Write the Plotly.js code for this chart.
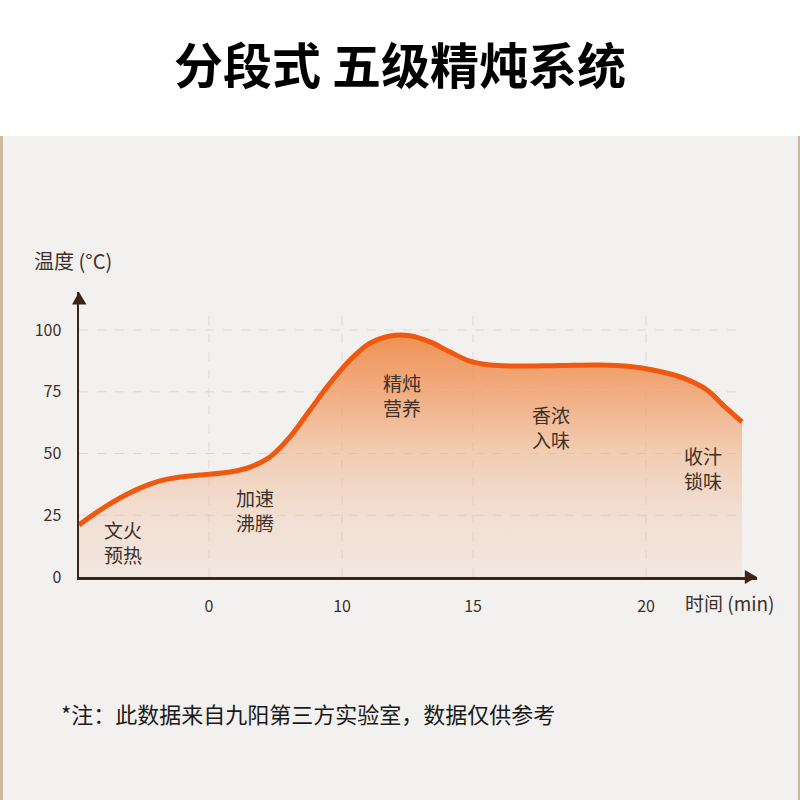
<!DOCTYPE html>
<html>
<head>
<meta charset="utf-8">
<script src="https://cdn.plot.ly/plotly-3.0.1.min.js"></script>
<style>
  html, body { margin: 0; padding: 0; background: #ffffff; }
  #chart { width: 800px; height: 800px; }
</style>
</head>
<body>
<div id="chart"></div>
<script>
// ---- data (x in horizontal chart units, axis is non-linear in minutes) ----
const curveX = [0, 21, 41, 61, 81, 101, 121, 151, 171, 191, 211, 231, 251, 271, 291, 311, 331, 351, 371, 391, 411, 441, 481, 521, 551, 574, 604, 628, 644, 663];
const temperature = [21.1, 27.1, 32, 36, 38.9, 40.5, 41.3, 42.5, 44.5, 48.6, 56.7, 67.6, 78.5, 87.9, 94.7, 97.6, 97.7, 95.2, 91.1, 87.4, 85.8, 85.4, 85.6, 85.8, 85.2, 83.8, 80.6, 75.7, 69.6, 62.8];
const xTickVals = [130, 263, 394, 567];
const xTickText = ["0", "10", "15", "20"];
const yTickVals = [0, 25, 50, 75, 100];
const stageLabels = ["文火<br>预热", "加速<br>沸腾", "精炖<br>营养", "香浓<br>入味", "收汁<br>锁味"];
const stageX = [44, 176, 323, 472, 624];
const stageY = [14.2, 27.1, 73.7, 60.7, 44.1];
const titleText = "分段式 五级精炖系统";
const yTitle = "温度 (°C)";
const xTitle = "时间 (min)";
const footnote = "*注：此数据来自九阳第三方实验室，数据仅供参考";

const CJK = '"Noto Sans CJK SC", "Noto Sans", sans-serif';
const textColor = '#3d3029';

const trace = {
  x: curveX,
  y: temperature,
  type: 'scatter',
  mode: 'lines',
  line: { color: '#f05810', width: 5, shape: 'spline', smoothing: 1 },
  fill: 'tozeroy',
  fillgradient: {
    type: 'vertical',
    start: 0,
    stop: 100,
    colorscale: [
      [0, 'rgba(240,190,160,0.2)'],
      [0.25, 'rgba(240,180,145,0.3)'],
      [0.5, 'rgba(242,168,118,0.5)'],
      [0.75, 'rgba(240,148,88,0.74)'],
      [1, 'rgba(238,132,62,0.9)']
    ]
  },
  hoverinfo: 'skip',
  showlegend: false
};

const annotations = stageLabels.map((t, i) => ({
  text: t, x: stageX[i], y: stageY[i], xref: 'x', yref: 'y',
  showarrow: false, xanchor: 'center', yanchor: 'middle', align: 'center',
  font: { family: CJK, size: 19, color: textColor }
}));
annotations.push({
  text: yTitle, xref: 'paper', yref: 'paper', x: -0.0693, y: 1.112,
  xanchor: 'left', yanchor: 'middle', showarrow: false,
  font: { family: CJK, size: 20, color: textColor }
});
annotations.push({
  text: xTitle, xref: 'paper', yref: 'paper', x: 0.8909, y: -0.0912,
  xanchor: 'left', yanchor: 'middle', showarrow: false,
  font: { family: CJK, size: 19, color: textColor }
});
annotations.push({
  text: footnote, xref: 'paper', yref: 'paper', x: -0.0295, y: -0.477,
  xanchor: 'left', yanchor: 'middle', showarrow: false,
  font: { family: CJK, size: 22, color: '#1a1a1a' }
});

const axisColor = '#3b2517';
const gridColor = '#ded7d1';
const shapes = [
  // panel background
  { type: 'rect', xref: 'paper', yref: 'paper', x0: -0.1166, x1: 1.0634, y0: -0.7825, y1: 1.5474,
    fillcolor: '#f2f1ef', line: { width: 0 }, layer: 'below' },
  // side borders
  { type: 'rect', xref: 'paper', yref: 'paper', x0: -0.1166, x1: -0.1122, y0: -0.7825, y1: 1.5474,
    fillcolor: '#cdb99c', line: { width: 0 }, layer: 'below' },
  { type: 'rect', xref: 'paper', yref: 'paper', x0: 1.0604, x1: 1.0634, y0: -0.7825, y1: 1.5474,
    fillcolor: '#cdb99c', line: { width: 0 }, layer: 'below' },
  // y-axis arrow head
  { type: 'path', xref: 'paper', yref: 'paper',
    path: 'M 0 1.0 L -0.0103 0.956 L 0.0111 0.956 Z',
    fillcolor: axisColor, line: { width: 0 } },
  // x-axis arrow head
  { type: 'path', xref: 'paper', yref: 'paper',
    path: 'M 1.0 0 L 0.982 0.0246 L 0.982 -0.0246 Z',
    fillcolor: axisColor, line: { width: 0 } }
];
// dashed guide lines at tick positions
yTickVals.filter(v => v > 0).forEach(v => shapes.push({
  type: 'line', xref: 'x', yref: 'y', x0: 0, x1: 658, y0: v, y1: v,
  line: { color: gridColor, width: 1, dash: 'dash' }, layer: 'below'
}));
xTickVals.forEach(v => shapes.push({
  type: 'line', xref: 'x', yref: 'y', x0: v, x1: v, y0: 0, y1: 109,
  line: { color: gridColor, width: 1, dash: 'dash' }, layer: 'below'
}));

const layout = {
  width: 800, height: 800,
  margin: { l: 79, r: 43, t: 292, b: 223, pad: 0 },
  paper_bgcolor: '#ffffff',
  plot_bgcolor: 'rgba(0,0,0,0)',
  title: {
    text: '<b>' + titleText + '</b>',
    x: 0.5, xref: 'container', xanchor: 'center',
    y: 0.916, yref: 'container', yanchor: 'middle',
    font: { family: CJK, size: 49, color: '#000000' }
  },
  xaxis: {
    range: [0, 678], fixedrange: true,
    tickmode: 'array', tickvals: xTickVals, ticktext: xTickText,
    ticks: '', ticklabelstandoff: 13,
    tickfont: { family: CJK, size: 16, color: textColor },
    showgrid: false,
    showline: true, linecolor: axisColor, linewidth: 2.5,
    zeroline: false
  },
  yaxis: {
    range: [0, 115.4], fixedrange: true,
    tickmode: 'array', tickvals: yTickVals,
    ticks: '', ticklabelstandoff: 12,
    tickfont: { family: CJK, size: 16, color: textColor },
    showgrid: false,
    showline: true, linecolor: axisColor, linewidth: 2.5,
    zeroline: false
  },
  annotations: annotations,
  shapes: shapes,
  showlegend: false
};

Plotly.newPlot('chart', [trace], layout, { staticPlot: true, displayModeBar: false });
</script>
</body>
</html>
